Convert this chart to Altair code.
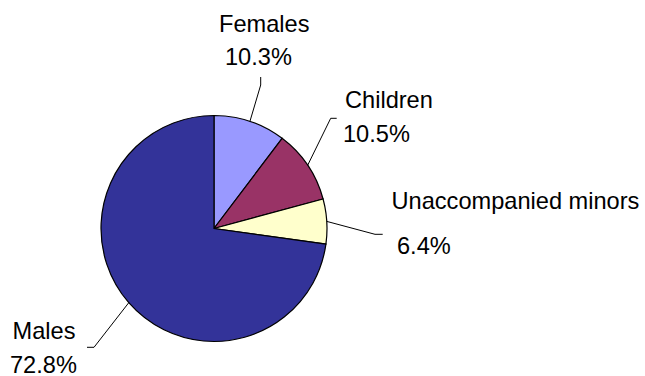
import math
import altair as alt
import pandas as pd

# ---- data ----
categories = ["Females", "Children", "Unaccompanied minors", "Males"]
shares = [10.3, 10.5, 6.4, 72.8]
pct_labels = ["10.3%", "10.5%", "6.4%", "72.8%"]
colors = ["#9999FF", "#993366", "#FFFFCC", "#333399"]

# ---- layout (pixels) ----
CX, CY, R = 214, 228.5, 113
# leader-line bends after leaving the pie edge, and their ends
bends = [(260.7, 85), (330.7, 118.3), (375, 234.3), (94, 347.3)]
ends = [(260.7, 77), (336.7, 118.3), (382.7, 234.3), (87, 347.3)]
# label anchors: (x_left, baseline) for name line and percentage line
name_pos = [(219, 31.5), (345, 108), (391.5, 209.3), (12.5, 339.3)]
pct_pos = [(225, 65), (343, 141.5), (397, 254.3), (10, 373.3)]
FONT = "Liberation Sans"
FS = 23.6

pie_df = pd.DataFrame({
    "category": categories,
    "share": shares,
    "idx": list(range(len(categories))),
})

# leader lines: start at the pie edge at each slice's mid angle
rows = []
total = sum(shares)
cum = 0.0
for i, (c, s) in enumerate(zip(categories, shares)):
    mid = (cum + s / 2) / total * 2 * math.pi
    cum += s
    sx = CX + R * math.sin(mid)
    sy = CY - R * math.cos(mid)
    for k, (px, py) in enumerate([(sx, sy), bends[i], ends[i]]):
        rows.append({"category": c, "seq": k, "px": px, "py": py})
line_df = pd.DataFrame(rows)

text_rows = []
for i, c in enumerate(categories):
    text_rows.append({"t": c, "px": name_pos[i][0], "py": name_pos[i][1]})
    text_rows.append({"t": pct_labels[i], "px": pct_pos[i][0], "py": pct_pos[i][1]})
text_df = pd.DataFrame(text_rows)

pie = alt.Chart(pie_df).mark_arc(stroke="black", strokeWidth=1.2).encode(
    theta=alt.Theta("share:Q", stack=True),
    order=alt.Order("idx:Q"),
    color=alt.Color("category:N",
                    scale=alt.Scale(domain=categories, range=colors),
                    legend=None),
    x=alt.value(CX),
    y=alt.value(CY),
    radius=alt.value(R),
)

lines = alt.Chart(line_df).mark_line(color="black", strokeWidth=1).encode(
    x=alt.X("px:Q", scale=None, axis=None),
    y=alt.Y("py:Q", scale=None, axis=None),
    detail="category:N",
    order="seq:Q",
)

labels = alt.Chart(text_df).mark_text(
    align="left", baseline="alphabetic", font=FONT, fontSize=FS, color="black"
).encode(
    x=alt.X("px:Q", scale=None, axis=None),
    y=alt.Y("py:Q", scale=None, axis=None),
    text="t:N",
)

chart = alt.layer(pie, lines, labels).properties(
    width=645, height=376,
    autosize=alt.AutoSizeParams(type="none"),
    padding=0,
    background="white",
).configure_view(stroke=None)

chart.save("out.html", embed_options={"renderer": "svg", "actions": False})
